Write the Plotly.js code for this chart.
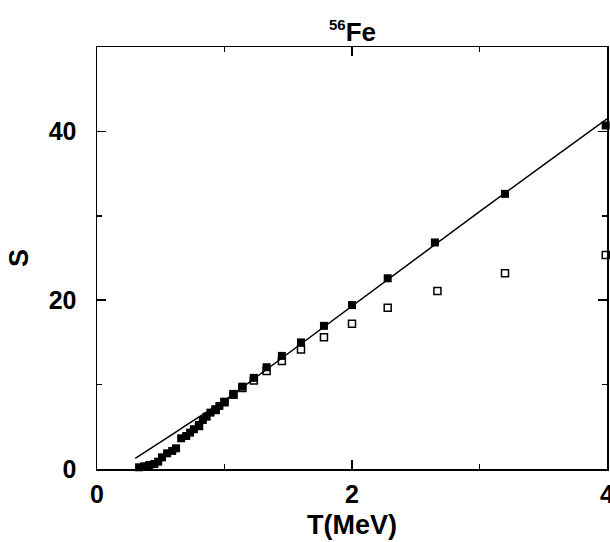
<!DOCTYPE html>
<html>
<head>
<meta charset="utf-8">
<script src="https://cdn.plot.ly/plotly-3.0.1.min.js"></script>
<style>html,body{margin:0;padding:0;background:#fff;}</style>
</head>
<body>
<div id="chart" style="width:610px;height:542px;"></div>
<script>
// Filled squares: T (MeV), S
const filledT = [0.33, 0.37, 0.41, 0.45, 0.48, 0.51, 0.55, 0.59, 0.62, 0.66, 0.70, 0.73, 0.76, 0.80, 0.83, 0.86, 0.89, 0.93, 0.96, 1.00, 1.07, 1.14, 1.23, 1.33, 1.45, 1.60, 1.78, 2.00, 2.28, 2.65, 3.20, 3.99];
const filledS = [0.2, 0.32, 0.47, 0.6, 0.87, 1.38, 1.86, 2.14, 2.45, 3.64, 3.91, 4.31, 4.71, 5.22, 5.81, 6.2, 6.68, 7.08, 7.47, 7.98, 8.9, 9.76, 10.8, 12.06, 13.4, 15.0, 16.96, 19.42, 22.6, 26.84, 32.6, 40.7];
// Open squares: T (MeV), S
const openT = [0.80, 0.93, 1.00, 1.07, 1.14, 1.23, 1.33, 1.45, 1.60, 1.78, 2.00, 2.28, 2.67, 3.20, 3.99];
const openS = [5.1, 7.0, 7.9, 8.8, 9.6, 10.5, 11.6, 12.8, 14.15, 15.6, 17.2, 19.1, 21.1, 23.2, 25.35];
// Solid line: T (MeV), S
const lineT = [0.3, 0.4, 0.5, 0.6, 0.7, 0.8, 1.0, 1.25, 1.5, 2.0, 2.5, 3.0, 3.5, 4.0];
const lineS = [1.25, 2.2, 3.2, 4.2, 5.2, 6.15, 8.1, 10.9, 13.7, 19.4, 25.0, 30.5, 36.0, 41.5];

const xTicks = [0, 2, 4];
const yTicks = [0, 20, 40];
const titleMass = '56';
const titleElem = 'Fe';

const fontFam = '"Liberation Sans", Arial, sans-serif';

const traces = [
  {x: lineT, y: lineS, mode: 'lines', line: {color: '#000', width: 1.5}, hoverinfo: 'skip'},
  {x: openT, y: openS, mode: 'markers', marker: {symbol: 'square-open', size: 7, color: '#000', line: {width: 1.5, color: '#000'}}, cliponaxis: false},
  {x: filledT, y: filledS, mode: 'markers', marker: {symbol: 'square', size: 8, color: '#000'}, cliponaxis: false}
];

const axisCommon = {
  showline: true, linecolor: '#000', linewidth: 1.5, mirror: 'ticks',
  ticks: 'inside', ticklen: 9, tickwidth: 1.5, tickcolor: '#000',
  showgrid: false, zeroline: false,
  ticklabeloverflow: 'allow',
  tickfont: {family: fontFam, size: 25, color: '#000', weight: 'bold'},
  fixedrange: true
};

const layout = {
  width: 610, height: 542,
  margin: {l: 97, r: 3, t: 47, b: 73},
  paper_bgcolor: '#fff', plot_bgcolor: '#fff',
  showlegend: false,
  annotations: [{
    text: '<sup><span style="font-size:15px">' + titleMass + '</span></sup>' + titleElem,
    xref: 'paper', yref: 'paper', x: 0.5, y: 1, xanchor: 'center', yanchor: 'bottom',
    yshift: -2, showarrow: false,
    font: {family: fontFam, size: 26, color: '#000', weight: 'bold'}
  }],
  xaxis: Object.assign({}, axisCommon, {
    range: [0, 4], tickmode: 'array', tickvals: xTicks, ticktext: xTicks.map(String),
    minor: {dtick: 1, tick0: 0, ticks: 'inside', ticklen: 5, tickwidth: 1.5, tickcolor: '#000', showgrid: false},
    ticklabelstandoff: 2,
    title: {text: 'T(MeV)', standoff: 8, font: {family: fontFam, size: 27, color: '#000', weight: 'bold'}}
  }),
  yaxis: Object.assign({}, axisCommon, {
    range: [0, 50], tickmode: 'array', tickvals: yTicks, ticktext: yTicks.map(String),
    minor: {dtick: 10, tick0: 0, ticks: 'inside', ticklen: 5, tickwidth: 1.5, tickcolor: '#000', showgrid: false},
    ticklabelstandoff: 14,
    title: {text: 'S', standoff: 12, font: {family: fontFam, size: 27, color: '#000', weight: 'bold'}}
  })
};

Plotly.newPlot('chart', traces, layout, {staticPlot: true, displayModeBar: false});
</script>
</body>
</html>
